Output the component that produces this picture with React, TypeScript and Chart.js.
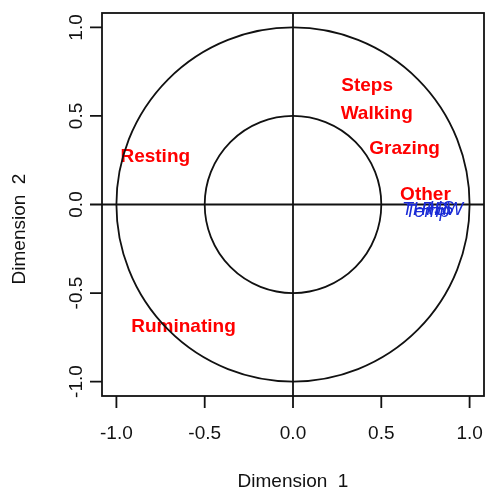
import { useEffect, useRef } from "react";
import { Chart, registerables } from "chart.js";

Chart.register(...registerables);

const activityLabels = ["Steps", "Walking", "Grazing", "Resting", "Ruminating", "Other"];
const activityX = [0.42, 0.474, 0.632, -0.78, -0.62, 0.75];
const activityY = [0.672, 0.513, 0.316, 0.268, -0.692, 0.053];

const weatherLabels = ["THI", "Temp", "RH", "HS", "SW"];
const weatherX = [0.7, 0.76, 0.8, 0.84, 0.88];
const weatherY = [-0.03, -0.04, -0.03, -0.025, -0.03];

const tickValues = [-1, -0.5, 0, 0.5, 1];
const tickLabels = ["-1.0", "-0.5", "0.0", "0.5", "1.0"];
const circleRadii = [1, 0.5];
const axisLimit = 1.0816;

const FONT = "'Liberation Sans', Arial, Helvetica, sans-serif";

const corPlugin = {
  id: "corPlugin",
  afterDatasetsDraw(chart: any) {
    const { ctx, chartArea, scales } = chart;
    const xs = scales.x;
    const ys = scales.y;
    const { left, right, top, bottom } = chartArea;
    const ink = "#111111";

    ctx.save();
    ctx.fillStyle = "#ff0000";
    ctx.font = `bold 19px ${FONT}`;
    ctx.textAlign = "center";
    ctx.textBaseline = "middle";
    const ds0 = chart.getDatasetMeta(0);
    ds0.data.forEach((pt: any, i: number) => {
      ctx.fillText(activityLabels[i], pt.x, pt.y);
    });
    ctx.restore();

    ctx.save();
    ctx.strokeStyle = ink;
    ctx.lineWidth = 1.8;
    const cx = xs.getPixelForValue(0);
    const cy = ys.getPixelForValue(0);
    circleRadii.forEach((r) => {
      const rx = xs.getPixelForValue(r) - cx;
      const ry = cy - ys.getPixelForValue(r);
      ctx.beginPath();
      ctx.ellipse(cx, cy, rx, ry, 0, 0, Math.PI * 2);
      ctx.stroke();
    });
    ctx.beginPath();
    ctx.moveTo(cx, top);
    ctx.lineTo(cx, bottom);
    ctx.moveTo(left, cy);
    ctx.lineTo(right, cy);
    ctx.stroke();
    ctx.strokeRect(left, top, right - left, bottom - top);
    ctx.beginPath();
    tickValues.forEach((v) => {
      const px = xs.getPixelForValue(v);
      ctx.moveTo(px, bottom);
      ctx.lineTo(px, bottom + 12);
      const py = ys.getPixelForValue(v);
      ctx.moveTo(left, py);
      ctx.lineTo(left - 12, py);
    });
    ctx.stroke();

    ctx.fillStyle = ink;
    ctx.font = `19px ${FONT}`;
    ctx.textAlign = "center";
    ctx.textBaseline = "middle";
    tickValues.forEach((v, i) => {
      const px = xs.getPixelForValue(v);
      ctx.fillText(tickLabels[i], px, 434);
    });
    tickValues.forEach((v, i) => {
      const py = ys.getPixelForValue(v);
      ctx.save();
      ctx.translate(77, py);
      ctx.rotate(-Math.PI / 2);
      ctx.fillText(tickLabels[i], 0, 0);
      ctx.restore();
    });
    ctx.fillText("Dimension  1", cx, 482);
    ctx.save();
    ctx.translate(20, 229);
    ctx.rotate(-Math.PI / 2);
    ctx.fillText("Dimension  2", 0, 0);
    ctx.restore();
    ctx.restore();

    ctx.save();
    ctx.fillStyle = "#1a2bd6";
    ctx.font = `italic 18px ${FONT}`;
    ctx.textAlign = "center";
    ctx.textBaseline = "middle";
    const ds1 = chart.getDatasetMeta(1);
    ds1.data.forEach((pt: any, i: number) => {
      ctx.fillText(weatherLabels[i], pt.x, pt.y);
    });
    ctx.restore();
  },
};

export default function App() {
  const ref = useRef<HTMLCanvasElement | null>(null);
  useEffect(() => {
    if (!ref.current) return;
    const chart = new Chart(ref.current, {
      type: "scatter",
      data: {
        datasets: [
          {
            label: "activities",
            data: activityX.map((x, i) => ({ x, y: activityY[i] })),
            pointRadius: 0,
            pointHoverRadius: 0,
          },
          {
            label: "weather",
            data: weatherX.map((x, i) => ({ x, y: weatherY[i] })),
            pointRadius: 0,
            pointHoverRadius: 0,
          },
        ],
      },
      options: {
        responsive: false,
        animation: false,
        devicePixelRatio: 1,
        layout: { padding: { left: 102, right: 2, top: 13, bottom: 94 } },
        plugins: { legend: { display: false }, tooltip: { enabled: false } },
        events: [],
        scales: {
          x: { type: "linear", min: -axisLimit, max: axisLimit, display: false },
          y: { type: "linear", min: -axisLimit, max: axisLimit, display: false },
        },
      },
      plugins: [corPlugin],
    });
    return () => chart.destroy();
  }, []);
  return (
    <div style={{ position: "absolute", left: 0, top: 0, width: 486, height: 490, background: "#fff" }}>
      <canvas ref={ref} width={486} height={490} style={{ display: "block" }} />
    </div>
  );
}
